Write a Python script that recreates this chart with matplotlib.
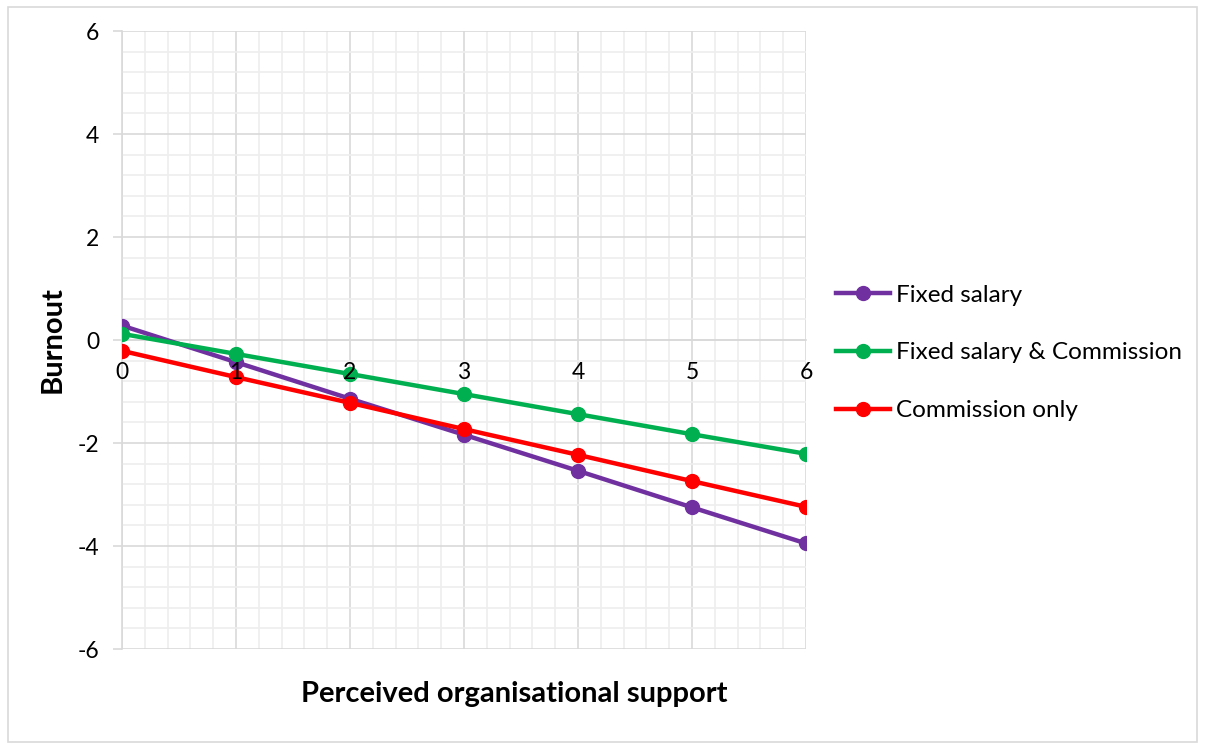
import matplotlib
matplotlib.use("Agg")
import matplotlib.pyplot as plt
from matplotlib.patches import Rectangle
from matplotlib.ticker import MultipleLocator

plt.rcParams["font.family"] = ["Lato", "DejaVu Sans"]
plt.rcParams["axes.unicode_minus"] = False

support = [0, 1, 2, 3, 4, 5, 6]
fixed_salary = [0.28, -0.43, -1.14, -1.84, -2.54, -3.25, -3.95]
fixed_commission = [0.12, -0.27, -0.66, -1.05, -1.44, -1.83, -2.21]
commission_only = [-0.21, -0.72, -1.22, -1.73, -2.23, -2.74, -3.24]

series_names = ["Fixed salary", "Fixed salary & Commission", "Commission only"]
series_colors = ["#7030A0", "#00B050", "#FF0000"]

GRID_MAJOR = "#d9d9d9"
GRID_MINOR = "#eeeeee"
AX_POS = [0.1012, 0.1335, 0.5677, 0.8251]

fig = plt.figure(figsize=(12.05, 7.49), dpi=100)
ax = fig.add_axes(AX_POS)

for vals, name, col in zip([fixed_salary, fixed_commission, commission_only], series_names, series_colors):
    ax.plot(support, vals, color=col, lw=3.2, marker="o", ms=10, label=name, zorder=3)

ax.set_xlim(0, 6)
ax.set_ylim(-6, 6)
ax.xaxis.set_major_locator(MultipleLocator(1))
ax.xaxis.set_minor_locator(MultipleLocator(0.2))
ax.yaxis.set_major_locator(MultipleLocator(2))
ax.yaxis.set_minor_locator(MultipleLocator(0.4))
ax.grid(which="major", color=GRID_MAJOR, lw=1.2, zorder=0)
ax.grid(which="minor", color=GRID_MINOR, lw=1.2, zorder=0)
ax.set_axisbelow(True)

for s in ["top", "right"]:
    ax.spines[s].set_visible(False)
ax.spines["bottom"].set_position(("data", 0))
ax.spines["bottom"].set_color(GRID_MAJOR)
ax.spines["left"].set_color(GRID_MAJOR)
ax.spines["bottom"].set_linewidth(1.2)
ax.spines["left"].set_linewidth(1.2)

ax.tick_params(axis="x", which="both", length=0, labelbottom=False)
ax.tick_params(axis="y", which="major", length=6.5, width=1.2, color=GRID_MAJOR, pad=10, labelsize=16.5, labelcolor="black")
ax.tick_params(axis="y", which="minor", length=0)

# x tick labels sit on top of the lines, as in the original Excel chart
top = fig.add_axes(AX_POS, sharex=ax, zorder=5)
top.set_ylim(ax.get_ylim())
top.patch.set_visible(False)
for s in ["top", "right", "left"]:
    top.spines[s].set_visible(False)
top.spines["bottom"].set_position(("data", 0))
top.spines["bottom"].set_visible(False)
top.set_yticks([])
top.tick_params(axis="x", which="both", length=0, pad=16, labelsize=16.5, colors="black")

fig.text(0.044, 0.546, "Burnout", rotation=90, ha="center", va="center", fontsize=21, fontweight="bold")
fig.text(0.427, 0.073, "Perceived organisational support", ha="center", va="center", fontsize=21, fontweight="bold")

ax.legend(loc="center left", bbox_to_anchor=(1.044, 0.479), frameon=False, fontsize=17.5,
          handlelength=2.2, handletextpad=0.25, labelspacing=1.52, borderpad=0, borderaxespad=0)

fig.patches.append(Rectangle((0.007, 0.009), 0.986, 0.982, transform=fig.transFigure,
                             fill=False, edgecolor="#d9d9d9", lw=1.2))

fig.savefig("out.png", dpi=100)
